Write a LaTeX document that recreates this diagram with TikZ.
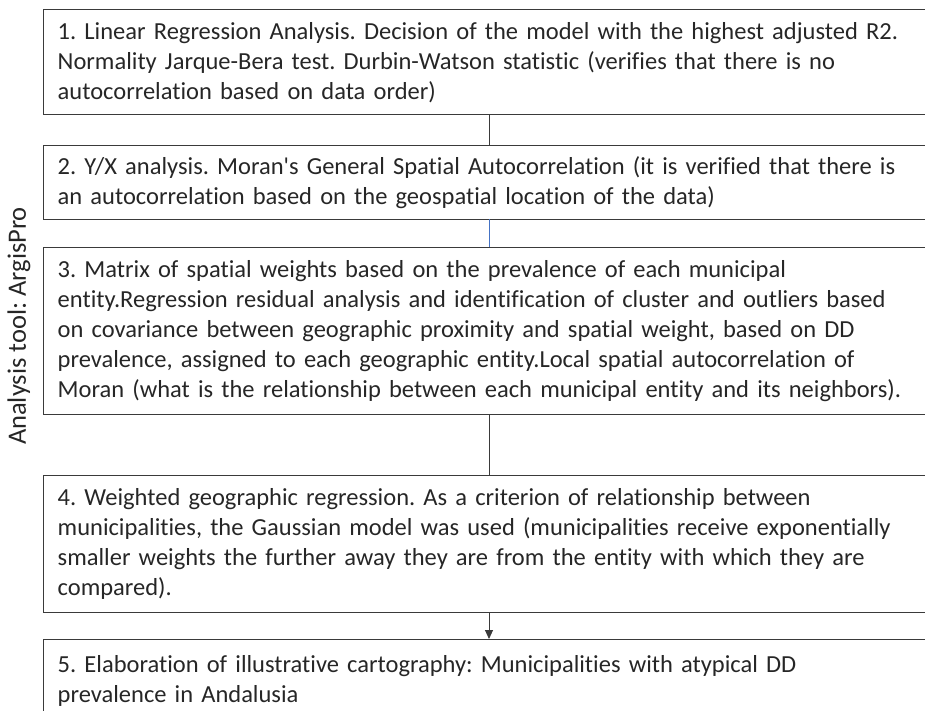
\documentclass[tikz,border=0pt]{standalone}
\usepackage{fontspec}
\setmainfont{Carlito}[Ligatures={TeXOff,CommonOff}]
\usetikzlibrary{arrows.meta}
\definecolor{txt}{HTML}{262626}
\definecolor{edge}{HTML}{3A3A3A}
\definecolor{blueline}{HTML}{4472C4}
\begin{document}
\frenchspacing
\begin{tikzpicture}[x=1pt,y=-1pt,
  stepbox/.style={draw=edge, line width=1.4pt, rectangle, text=txt, align=left,
    font=\fontsize{24.5}{30}\selectfont\frenchspacing, inner xsep=14pt, inner ysep=0pt,
    minimum width=890pt, text width=862pt, anchor=north west},
  link/.style={draw=edge, line width=0.9pt},
  lbl/.style={text=txt, font=\fontsize{26.5}{30}\selectfont}]
\useasboundingbox (0,0) rectangle (925,710);
\clip (0,0) rectangle (925,710);
\node[stepbox, minimum height=105pt] (b1) at (43,9) {1. Linear Regression Analysis. Decision of the model with the highest adjusted R2.\\Normality Jarque-Bera test. Durbin-Watson statistic (verifies that there is no\\autocorrelation based on data order)};
\node[stepbox, minimum height=74pt] (b2) at (43,145) {2. Y/X analysis. Moran's General Spatial Autocorrelation (it is verified that there is\\an autocorrelation based on the geospatial location of the data)};
\node[stepbox, minimum height=167pt] (b3) at (43,247) {3. Matrix of spatial weights based on the prevalence of each municipal\\entity.Regression residual analysis and identification of cluster and outliers based\\on covariance between geographic proximity and spatial weight, based on DD\\prevalence, assigned to each geographic entity.Local spatial autocorrelation of\\Moran (what is the relationship between each municipal entity and its neighbors).};
\node[stepbox, minimum height=137pt] (b4) at (43,475) {4. Weighted geographic regression. As a criterion of relationship between\\municipalities, the Gaussian model was used (municipalities receive exponentially\\smaller weights the further away they are from the entity with which they are\\compared).};
\node[stepbox, minimum height=100pt, text depth=52pt] (b5) at (43,639) {5. Elaboration of illustrative cartography: Municipalities with atypical DD\\prevalence in Andalusia};
\coordinate (c1) at (489,114);
\coordinate (c2) at (489,145);
\coordinate (c3) at (489,219);
\coordinate (c4) at (489,247);
\coordinate (c5) at (489,414);
\coordinate (c6) at (489,475);
\coordinate (c7) at (489,612);
\coordinate (c8) at (489,639);
\draw[link] (c1) -- (c2);
\draw[draw=blueline, line width=0.7pt] (c3) -- (c4);
\draw[link] (c5) -- (c6);
\draw[link, -{Triangle[length=9pt,width=8pt]}] (c7) -- (c8);
\node[lbl, rotate=90] (tool) at (19,326) {Analysis tool: ArgisPro};
\end{tikzpicture}
\end{document}
